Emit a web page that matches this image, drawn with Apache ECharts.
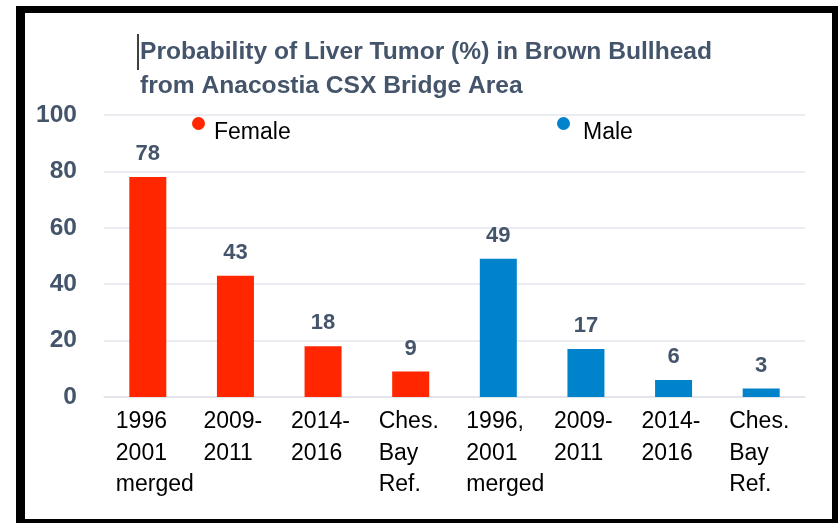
<!DOCTYPE html>
<html>
<head>
<meta charset="utf-8">
<script src="https://cdn.jsdelivr.net/npm/echarts@6/dist/echarts.min.js"></script>
<style>
  html, body { margin: 0; padding: 0; background: #fff; }
  #frame { position: absolute; left: 16px; top: 6px; width: 830px; height: 530px; background: #000; }
  #inner { position: absolute; left: 25px; top: 13px; width: 807px; height: 506px; background: #fff; }
  #chart { position: absolute; left: 0; top: 0; width: 838px; height: 523px; }
</style>
</head>
<body>
<div id="frame"></div>
<div id="inner"></div>
<div id="chart"></div>
<script>
// 数据
var categories = [
  '1996\n2001\nmerged', '2009-\n2011', '2014-\n2016', 'Ches.\nBay\nRef.',
  '1996,\n2001\nmerged', '2009-\n2011', '2014-\n2016', 'Ches.\nBay\nRef.'
];
var female = [78, 43, 18, 9, '-', '-', '-', '-'];
var male = ['-', '-', '-', '-', 49, 17, 6, 3];
var yTicks = [0, 20, 40, 60, 80, 100];

var slate = '#44546a';
var font = '"Liberation Sans", Arial, sans-serif';

var myChart = echarts.init(document.getElementById('chart'));

var labelStyle = {
  show: true,
  position: 'top',
  distance: 12,
  color: slate,
  fontFamily: font,
  fontWeight: 'bold',
  fontSize: 22
};

// 圆点在上方，下面留空，让图例文字比圆点低一些
var dotIcon = 'path://M0,10A10,10,0,1,1,20,10A10,10,0,1,1,0,10ZM10,49.2L10.01,49.2L10,49.2Z';

function legendOpt(name, left, gap) {
  return {
    data: [name],
    left: left,
    top: 117,
    padding: 0,
    icon: dotIcon,
    itemWidth: 13,
    itemHeight: 32,
    selectedMode: false,
    textStyle: {
      color: '#000',
      fontFamily: font,
      fontSize: 23,
      padding: [0, 0, 0, gap]
    }
  };
}

myChart.setOption({
  animation: false,
  title: {
    text: 'Probability of Liver Tumor (%) in Brown Bullhead\nfrom Anacostia CSX Bridge Area',
    left: 140,
    top: 35,
    padding: 0,
    textStyle: {
      color: slate,
      fontFamily: font,
      fontWeight: 'bold',
      fontSize: 24.6,
      lineHeight: 34
    }
  },
  // 标题前的光标竖线
  graphic: [{
    type: 'line',
    shape: { x1: 138, y1: 34, x2: 138, y2: 70 },
    style: { stroke: '#000', lineWidth: 1.5 }
  }],
  legend: [legendOpt('Female', 192, 4), legendOpt('Male', 557, 8)],
  grid: { left: 104, right: 33, top: 115, bottom: 126 },
  xAxis: {
    type: 'category',
    data: categories,
    axisLine: { lineStyle: { color: '#dfe3ea', width: 1.5 } },
    axisTick: { show: false },
    axisLabel: {
      margin: 9,
      interval: 0,
      formatter: function(value) {
        return value.split('\n').map(function(s) { return '{a|' + s + '}'; }).join('\n');
      },
      rich: {
        a: {
          width: 64,
          align: 'left',
          color: '#000',
          fontFamily: font,
          fontSize: 23,
          lineHeight: 31.5
        }
      }
    }
  },
  yAxis: {
    type: 'value',
    min: yTicks[0],
    max: yTicks[yTicks.length - 1],
    interval: 20,
    axisLine: { show: false },
    axisTick: { show: false },
    splitLine: { lineStyle: { color: '#e3e6ec', width: 1.5 } },
    axisLabel: {
      margin: 27,
      color: slate,
      fontFamily: font,
      fontWeight: 'bold',
      fontSize: 24.5
    }
  },
  series: [{
    name: 'Female',
    type: 'bar',
    barWidth: 37,
    barGap: '-100%',
    itemStyle: { color: '#ff2600' },
    label: labelStyle,
    data: female
  }, {
    name: 'Male',
    type: 'bar',
    barWidth: 37,
    barGap: '-100%',
    itemStyle: { color: '#0083cb' },
    label: labelStyle,
    data: male
  }]
});
</script>
</body>
</html>
